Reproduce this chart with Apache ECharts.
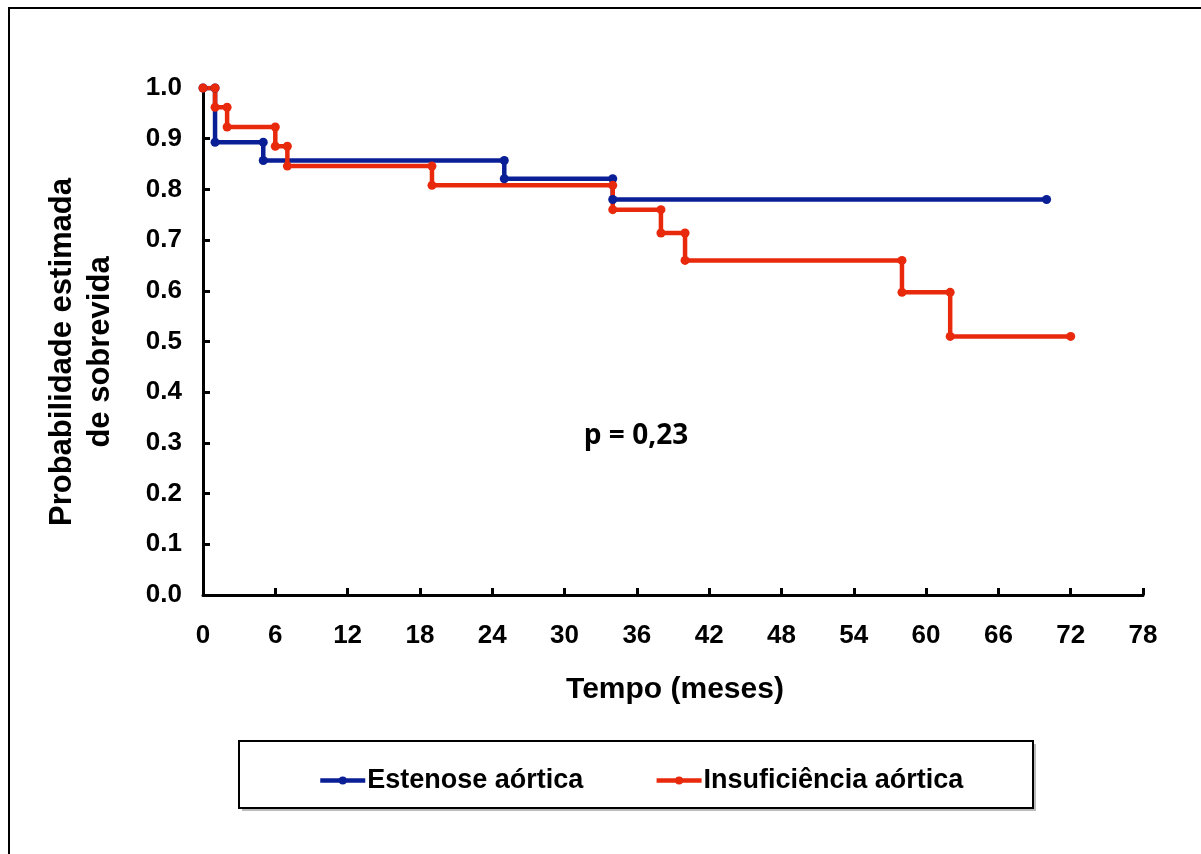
<!DOCTYPE html>
<html><head><meta charset="utf-8">
<script src="https://cdn.jsdelivr.net/npm/echarts@6/dist/echarts.min.js"></script>
<style>html,body{margin:0;padding:0;background:#fff}#c{width:1201px;height:854px}</style>
</head><body><div id="c"></div>
<script>
const seriesNames = ['Estenose aórtica', 'Insuficiência aórtica'];
const esTimes = [0, 1, 5, 25, 34];
const esSurv = [1.0, 0.893, 0.857, 0.821, 0.78];
const esEnd = 70;
const iaTimes = [0, 1, 2, 6, 7, 19, 34, 38, 40, 58, 62];
const iaSurv = [1.0, 0.962, 0.923, 0.885, 0.846, 0.808, 0.76, 0.714, 0.66, 0.597, 0.51];
const iaEnd = 72;
const xTicks = [0, 6, 12, 18, 24, 30, 36, 42, 48, 54, 60, 66, 72, 78];
const yTicks = [0, 0.1, 0.2, 0.3, 0.4, 0.5, 0.6, 0.7, 0.8, 0.9, 1.0];
const pText = 'p = 0,23';

function stepPoints(times, surv, end) {
  const pts = [[times[0], surv[0]]];
  for (let i = 1; i < times.length; i++) {
    pts.push([times[i], surv[i - 1]]);
    pts.push([times[i], surv[i]]);
  }
  pts.push([end, surv[surv.length - 1]]);
  return pts;
}

const chart = echarts.init(document.getElementById('c'));
const F = '"Liberation Sans", Arial, sans-serif';
const BLUE = '#0a1f96', RED = '#e8290b';
chart.setOption({
  animation: false,
  backgroundColor: '#fff',
  grid: { left: 203, right: 58, top: 88, bottom: 259, containLabel: false },
  xAxis: {
    type: 'value', min: xTicks[0], max: xTicks[xTicks.length - 1], interval: 6,
    axisLine: { lineStyle: { color: '#000', width: 3 } },
    axisTick: { inside: true, length: 7, lineStyle: { color: '#000', width: 3 } },
    splitLine: { show: false },
    axisLabel: { color: '#000', fontFamily: F, fontWeight: 'bold', fontSize: 26, margin: 28 }
  },
  yAxis: {
    type: 'value', min: yTicks[0], max: yTicks[yTicks.length - 1], interval: 0.1,
    axisLine: { show: true, lineStyle: { color: '#000', width: 3 } },
    axisTick: { show: true, inside: true, length: 7, lineStyle: { color: '#000', width: 3 } },
    splitLine: { show: false },
    axisLabel: { color: '#000', fontFamily: F, fontWeight: 'bold', fontSize: 26, margin: 21,
      formatter: v => v.toFixed(1) }
  },
  legend: {
    left: 313, top: 762, itemWidth: 45, itemHeight: 10, itemGap: 71,
    lineStyle: { width: 4.5 },
    textStyle: { color: '#000', fontFamily: F, fontWeight: 'bold', fontSize: 27, padding: [0, 0, 0, -3] },
    data: seriesNames
  },
  series: [
    { name: seriesNames[0], type: 'line', data: stepPoints(esTimes, esSurv, esEnd),
      color: BLUE, symbol: 'circle', symbolSize: 9,
      lineStyle: { width: 4.5, color: BLUE }, itemStyle: { color: BLUE } },
    { name: seriesNames[1], type: 'line', data: stepPoints(iaTimes, iaSurv, iaEnd),
      color: RED, symbol: 'circle', symbolSize: 9,
      lineStyle: { width: 4.5, color: RED }, itemStyle: { color: RED } }
  ],
  graphic: [
    { type: 'rect', shape: { x: 9, y: 8, width: 1200, height: 860 }, style: { fill: 'none', stroke: '#000', lineWidth: 2 }, silent: true },
    { type: 'rect', shape: { x: 242, y: 744, width: 794, height: 67 }, style: { fill: '#bbb' }, z: -2, silent: true },
    { type: 'rect', shape: { x: 239, y: 741, width: 794, height: 67 }, style: { fill: '#fff', stroke: '#000', lineWidth: 2 }, z: -1, silent: true },
    { type: 'text', x: 675, y: 690, style: { text: 'Tempo (meses)', fill: '#000', font: 'bold 30px ' + F, textAlign: 'center', textVerticalAlign: 'middle' } },
    { type: 'text', x: 81, y: 352, rotation: Math.PI / 2,
      style: { text: 'Probabilidade estimada\nde sobrevida', fill: '#000', font: 'bold 31px ' + F, lineHeight: 38, textAlign: 'center', textVerticalAlign: 'middle' } },
    { type: 'text', x: 636, y: 436, style: { text: pText, fill: '#000', font: 'bold 28px "Open Sans", "Noto Sans", sans-serif', textAlign: 'center', textVerticalAlign: 'middle' } }
  ]
});
</script></body></html>
